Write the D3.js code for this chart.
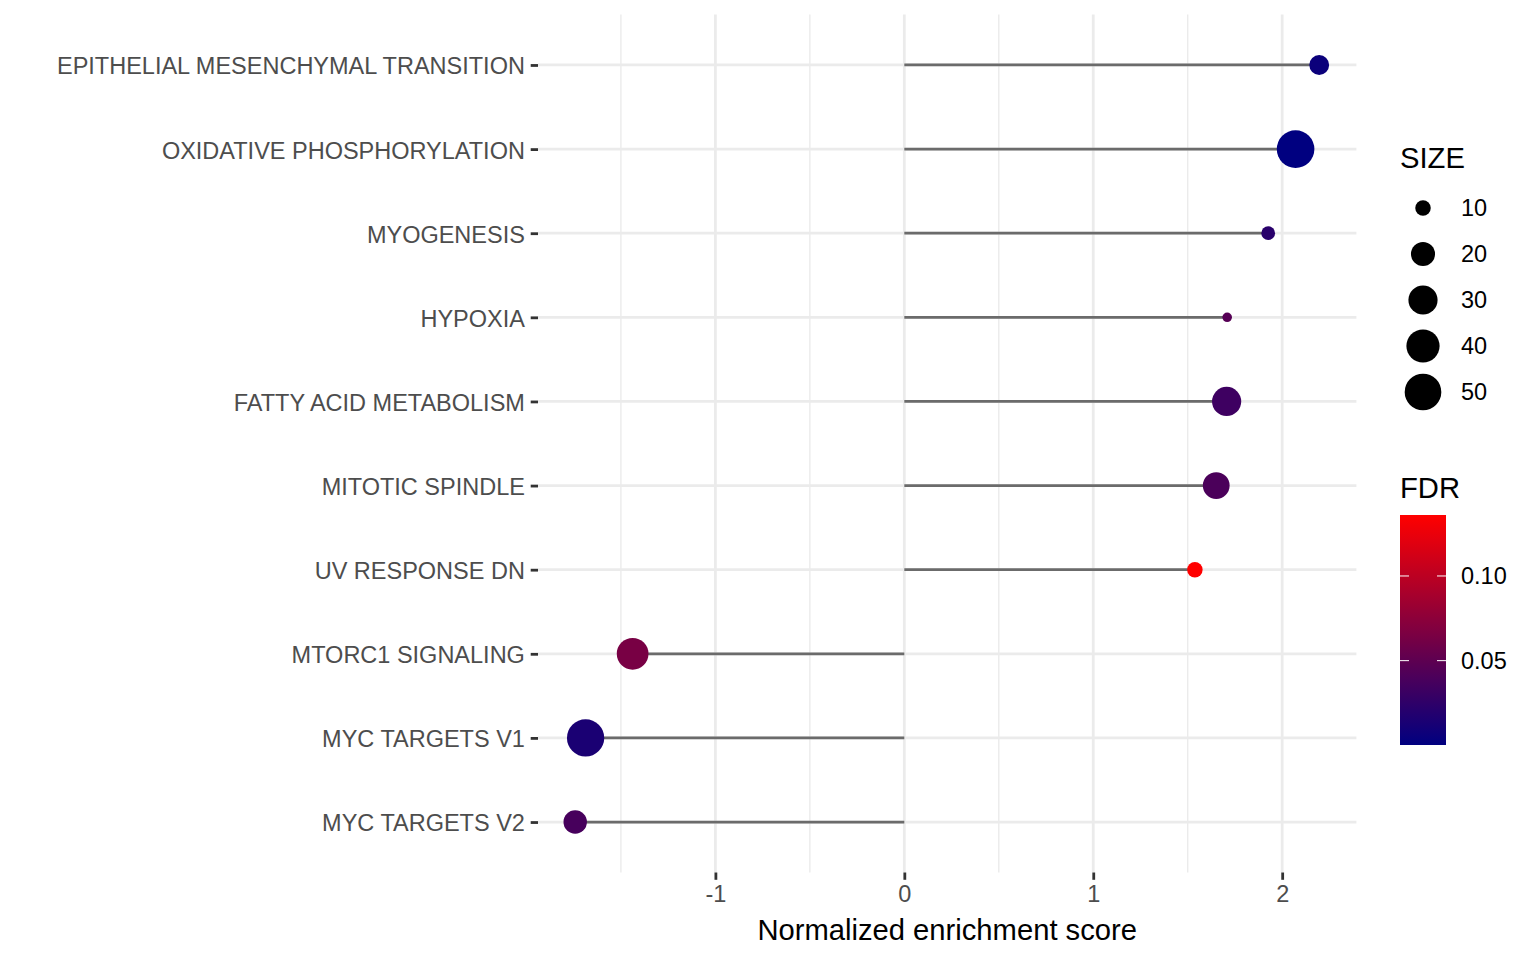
<!DOCTYPE html>
<meta charset="utf-8">
<style>
  body { margin: 0; background: #fff; }
  text { font-family: "Liberation Sans", Arial, sans-serif; }
</style>
<script src="https://d3js.org/d3.v7.min.js"></script>
<div id="chart"></div>
<script>
// pathways, top to bottom
var pathways = ["EPITHELIAL MESENCHYMAL TRANSITION", "OXIDATIVE PHOSPHORYLATION", "MYOGENESIS",
  "HYPOXIA", "FATTY ACID METABOLISM", "MITOTIC SPINDLE", "UV RESPONSE DN",
  "MTORC1 SIGNALING", "MYC TARGETS V1", "MYC TARGETS V2"];
var nes  = [2.196, 2.071, 1.926, 1.709, 1.706, 1.651, 1.538, -1.438, -1.687, -1.742];
var size = [14, 53, 9, 8, 30, 25, 10, 36, 52, 19];
var fdr  = [0.006, 0.0002, 0.022, 0.046, 0.033, 0.040, 0.136, 0.064, 0.014, 0.038];

var sizeBreaks = [10, 20, 30, 40, 50];
var fdrBreaks = [0.05, 0.10];
var xTicks = [-1, 0, 1, 2];
var xMinor = [-1.5, -0.5, 0.5, 1.5];

var W = 1536, H = 960;
var panel = {left: 538, right: 1356.4, top: 14.5, bottom: 872.5};
var axisFont = 23.5, titleFont = 29.2;

var svg = d3.select("#chart").append("svg")
  .attr("width", W).attr("height", H);

// x scale with 5% expansion
var ext = d3.extent(nes.concat([0]));
var pad = (ext[1] - ext[0]) * 0.05;
var x = d3.scaleLinear()
  .domain([ext[0] - pad, ext[1] + pad])
  .range([panel.left, panel.right]);

var y = d3.scalePoint()
  .domain(pathways)
  .range([panel.top, panel.bottom])
  .padding(0.6);

var sMin = d3.min(size), sMax = d3.max(size);
var r = function(v) { return 4.8 + 14 * Math.sqrt((v - sMin) / (sMax - sMin)); };

var fExt = d3.extent(fdr);
var color = d3.scaleLinear().domain(fExt).range(["navy", "red"])
  .interpolate(d3.interpolateRgb);

// grid
var grid = svg.append("g");
grid.selectAll(".minor").data(xMinor).enter().append("line")
  .attr("x1", function(d) { return x(d); }).attr("x2", function(d) { return x(d); })
  .attr("y1", panel.top).attr("y2", panel.bottom)
  .attr("stroke", "#ebebeb").attr("stroke-width", 1.4);
grid.selectAll(".major").data(xTicks).enter().append("line")
  .attr("x1", function(d) { return x(d); }).attr("x2", function(d) { return x(d); })
  .attr("y1", panel.top).attr("y2", panel.bottom)
  .attr("stroke", "#ebebeb").attr("stroke-width", 2.8);
grid.selectAll(".hmajor").data(pathways).enter().append("line")
  .attr("x1", panel.left).attr("x2", panel.right)
  .attr("y1", function(d) { return y(d); }).attr("y2", function(d) { return y(d); })
  .attr("stroke", "#ebebeb").attr("stroke-width", 2.8);

// x axis
var xAxis = svg.append("g")
  .attr("transform", "translate(0," + panel.bottom + ")")
  .call(d3.axisBottom(x).tickValues(xTicks).tickFormat(function(d) { return String(d); })
    .tickSize(7.3).tickPadding(5.8));
xAxis.select(".domain").remove();
xAxis.selectAll("line").attr("stroke", "#333").attr("stroke-width", 2.8);
xAxis.selectAll("text").attr("fill", "#4d4d4d").attr("font-size", axisFont)
  .attr("font-family", "Liberation Sans, Arial, sans-serif");

// y axis
var yAxis = svg.append("g")
  .attr("transform", "translate(" + panel.left + ",0)")
  .call(d3.axisLeft(y).tickSize(7.3).tickPadding(5.8));
yAxis.select(".domain").remove();
yAxis.selectAll("line").attr("stroke", "#333").attr("stroke-width", 2.8);
yAxis.selectAll("text").attr("fill", "#4d4d4d").attr("font-size", axisFont)
  .attr("dy", "0.38em")
  .attr("font-family", "Liberation Sans, Arial, sans-serif");

svg.append("text")
  .attr("x", (panel.left + panel.right) / 2).attr("y", 940)
  .attr("text-anchor", "middle").attr("font-size", titleFont).attr("fill", "#000")
  .text("Normalized enrichment score");

// lollipops
var rows = pathways.map(function(p, i) { return {p: p, nes: nes[i], size: size[i], fdr: fdr[i]}; });
svg.append("g").selectAll("line").data(rows).enter().append("line")
  .attr("x1", x(0)).attr("x2", function(d) { return x(d.nes); })
  .attr("y1", function(d) { return y(d.p); }).attr("y2", function(d) { return y(d.p); })
  .attr("stroke", "#6b6b6b").attr("stroke-width", 2.8);
svg.append("g").selectAll("circle").data(rows).enter().append("circle")
  .attr("cx", function(d) { return x(d.nes); })
  .attr("cy", function(d) { return y(d.p); })
  .attr("r", function(d) { return r(d.size); })
  .attr("fill", function(d) { return color(d.fdr); });

// size legend
var lg = svg.append("g");
lg.append("text").attr("x", 1400).attr("y", 167.5).attr("font-size", titleFont).text("SIZE");
var keyY = [208, 254, 300, 346, 392];
sizeBreaks.forEach(function(b, i) {
  lg.append("circle").attr("cx", 1423).attr("cy", keyY[i]).attr("r", r(b)).attr("fill", "#000");
  lg.append("text").attr("x", 1461).attr("y", keyY[i]).attr("dy", "0.36em")
    .attr("font-size", axisFont).text(b);
});

// FDR colourbar
var cg = svg.append("g");
cg.append("text").attr("x", 1400).attr("y", 498).attr("font-size", titleFont).text("FDR");
var barTop = 515, barBot = 745, barX = 1400, barW = 46;
var cy = d3.scaleLinear().domain(fExt).range([barBot, barTop]);
var defs = svg.append("defs");
var grad = defs.append("linearGradient").attr("id", "fdrgrad")
  .attr("x1", 0).attr("x2", 0).attr("y1", 1).attr("y2", 0);
d3.range(0, 1.0001, 0.05).forEach(function(t) {
  grad.append("stop").attr("offset", t)
    .attr("stop-color", color(fExt[0] + t * (fExt[1] - fExt[0])));
});
cg.append("rect").attr("x", barX).attr("y", barTop).attr("width", barW)
  .attr("height", barBot - barTop).attr("fill", "url(#fdrgrad)");
fdrBreaks.forEach(function(b) {
  var yy = cy(b);
  cg.append("line").attr("x1", barX).attr("x2", barX + 9).attr("y1", yy).attr("y2", yy)
    .attr("stroke", "#fff").attr("stroke-width", 1);
  cg.append("line").attr("x1", barX + barW - 9).attr("x2", barX + barW).attr("y1", yy).attr("y2", yy)
    .attr("stroke", "#fff").attr("stroke-width", 1);
  cg.append("text").attr("x", 1461).attr("y", yy).attr("dy", "0.36em")
    .attr("font-size", axisFont).text(d3.format(".2f")(b));
});
</script>
